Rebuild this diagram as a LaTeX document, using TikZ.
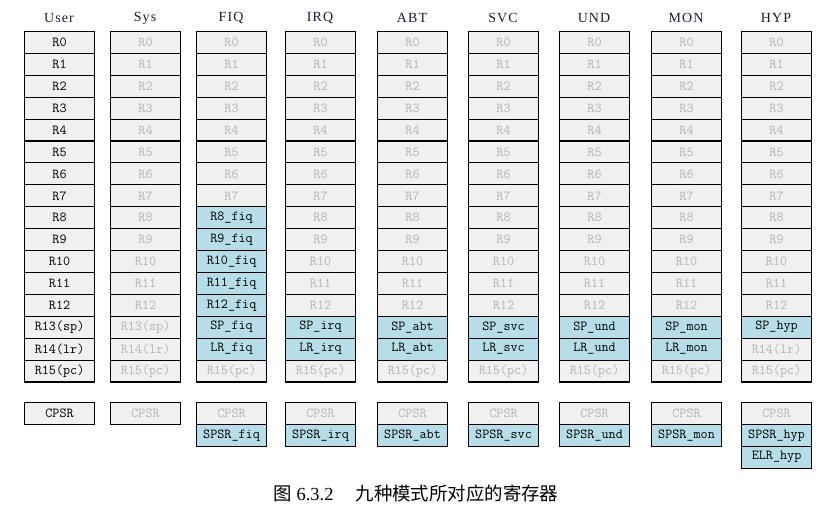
\documentclass[tikz,border=0pt]{standalone}
\usepackage{fontspec}
\setmainfont{Liberation Serif}
\newfontfamily\cjk{Noto Sans CJK SC}
\definecolor{cellgray}{HTML}{F0F0F0}
\definecolor{cellblue}{HTML}{B7DEE8}
\definecolor{dimtext}{HTML}{B8B4B0}
\definecolor{headtext}{HTML}{1A1A33}
% label of a plain register row
\newcommand\gprname[1]{\ifnum#1<13 R#1\else\ifnum#1=13 R13(sp)\else\ifnum#1=14 R14(lr)\else R15(pc)\fi\fi\fi}
\begin{document}
\begin{tikzpicture}[x=1bp,y=-1bp,
    reg/.style={draw,line width=1.1bp,minimum width=70bp,minimum height=21.9bp,
      inner sep=0pt,anchor=north west,font=\ttfamily\fontsize{13.8}{14}\selectfont},
    head/.style={font=\fontsize{14}{14}\selectfont\addfontfeature{LetterSpace=8},text=headtext}]
  \useasboundingbox (0,0) rectangle (837,508);
  % one column per mode: left edge / title / tag / first banked row / banked lr / text colour
  \foreach \x/\mode/\m/\fst/\lr/\tc in {24/User/usr/99/0/black,110/Sys/sys/99/0/dimtext,
      196/FIQ/fiq/8/1/dimtext,285/IRQ/irq/13/1/dimtext,377/ABT/abt/13/1/dimtext,
      468/SVC/svc/13/1/dimtext,559/UND/und/13/1/dimtext,651/MON/mon/13/1/dimtext,
      741/HYP/hyp/13/0/dimtext}{
    \node[head] (\m-head) at (\x+35,18) {\mode};
    \foreach \r in {0,...,15}{
      \def\cellfill{cellgray}\edef\celltext{\tc}\def\celllabel{\gprname{\r}}
      \ifnum\r<15 \ifnum\r<\fst\else
        \def\cellfill{cellblue}\def\celltext{black}
        \ifnum\r<13 \def\celllabel{R\r\_\m}\fi
        \ifnum\r=13 \def\celllabel{SP\_\m}\fi
        \ifnum\r=14 \ifnum\lr=1 \def\celllabel{LR\_\m}\else
          \def\cellfill{cellgray}\edef\celltext{\tc}\fi\fi
      \fi\fi
      \node[reg,fill=\cellfill,text=\celltext] (\m-\r) at (\x,{31+21.9*\r}) {\celllabel};
    }
    \node[reg,fill=cellgray,text=\tc] (\m-cpsr) at (\x,402) {CPSR};
    \ifnum\fst<99 \node[reg,fill=cellblue] (\m-spsr) at (\x,423.9) {SPSR\_\m};\fi
  }
  \node[reg,fill=cellblue] (hyp-elr) at (741,445.8) {ELR\_hyp};
  \node[font=\fontsize{18.5}{18.5}\selectfont] (caption) at (416,493)
    {{\cjk 图} 6.3.2\hspace{1.2em}{\cjk 九种模式所对应的寄存器}};
\end{tikzpicture}
\end{document}
